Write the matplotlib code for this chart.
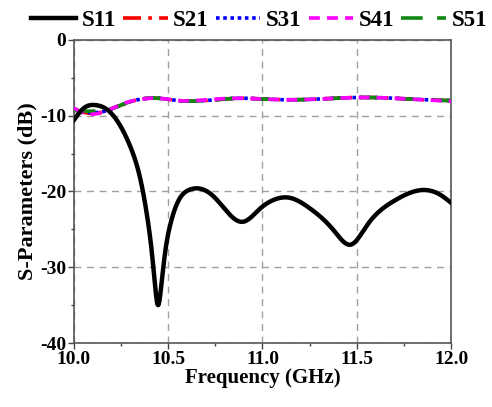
import matplotlib
matplotlib.use("Agg")
import matplotlib.pyplot as plt
import numpy as np
from matplotlib.ticker import MultipleLocator

# S11 (dB)
s11_f = [10.0, 10.053, 10.115, 10.177, 10.248, 10.30, 10.354, 10.389, 10.416, 10.433, 10.446,
         10.463, 10.481, 10.513, 10.557, 10.61, 10.663, 10.743, 10.81, 10.895, 10.99, 11.06,
         11.137, 11.25, 11.38, 11.47, 11.55, 11.70, 11.855, 11.94, 12.0]
s11_db = [-10.6, -9.0, -8.6, -9.2, -11.4, -14.1, -18.5, -23.3, -28.6, -33.0, -35.0,
          -32.6, -28.6, -24.2, -21.1, -19.8, -19.6, -20.7, -22.6, -24.0, -22.2, -21.1,
          -20.8, -22.2, -25.2, -27.0, -24.6, -21.2, -19.8, -20.4, -21.5]

# S21..S51 (dB), nearly identical
sx_f = [10.0, 10.06, 10.10, 10.18, 10.25, 10.32, 10.45, 10.55, 10.70, 10.88, 11.0, 11.15, 11.30, 11.50, 11.70, 11.85, 12.0]
s21_db = [-9.1, -9.6, -9.7, -9.3, -8.6, -8.0, -7.7, -8.0, -8.0, -7.7, -7.8, -7.9, -7.8, -7.6, -7.7, -7.9, -8.0]
s31_db = [-9.1, -9.5, -9.6, -9.3, -8.6, -8.0, -7.7, -8.0, -8.0, -7.7, -7.8, -7.9, -7.8, -7.6, -7.7, -7.9, -8.0]
s41_db = [-9.0, -9.7, -9.8, -9.3, -8.5, -8.0, -7.7, -8.0, -7.9, -7.7, -7.8, -7.9, -7.8, -7.6, -7.7, -7.9, -8.1]
s51_db = [-9.3, -9.4, -9.4, -9.2, -8.6, -8.0, -7.7, -8.0, -8.0, -7.7, -7.8, -7.9, -7.8, -7.6, -7.7, -7.9, -8.0]

x_ticks = [10.0, 10.5, 11.0, 11.5, 12.0]
x_tick_labels = ["10.0", "10.5", "11.0", "11.5", "12.0"]
y_ticks = [0, -10, -20, -30, -40]
y_tick_labels = ["0", "-10", "-20", "-30", "-40"]


def spline(xs, ys, n=800):
    """Natural cubic spline through the read points."""
    xs = np.asarray(xs, float); ys = np.asarray(ys, float)
    N = len(xs); h = np.diff(xs)
    A = np.zeros((N, N)); b = np.zeros(N)
    A[0, 0] = A[-1, -1] = 1.0
    for i in range(1, N - 1):
        A[i, i - 1] = h[i - 1]; A[i, i] = 2 * (h[i - 1] + h[i]); A[i, i + 1] = h[i]
        b[i] = 6 * ((ys[i + 1] - ys[i]) / h[i] - (ys[i] - ys[i - 1]) / h[i - 1])
    M = np.linalg.solve(A, b)
    xf = np.linspace(xs[0], xs[-1], n)
    i = np.clip(np.searchsorted(xs, xf, side="right") - 1, 0, N - 2)
    hi = h[i]; a = xs[i + 1] - xf; c = xf - xs[i]
    yf = (M[i] * a**3 + M[i + 1] * c**3) / (6 * hi) + (ys[i] / hi - M[i] * hi / 6) * a \
        + (ys[i + 1] / hi - M[i + 1] * hi / 6) * c
    return xf, yf


plt.rcParams['font.family'] = ['Liberation Serif', 'DejaVu Serif']
plt.rcParams['font.weight'] = 'bold'

fig = plt.figure(figsize=(4.92, 4.07), dpi=100)
ax = fig.add_axes([0.150, 0.157, 0.767, 0.745])

f, y = spline(s11_f, s11_db)
ax.plot(f, y, color='black', lw=3.2, label='S11', zorder=5)
f, y = spline(sx_f, s21_db)
ax.plot(f, y, color='red', lw=2.6, ls=(0, (5, 2, 1, 2)), label='S21', zorder=3)
f, y = spline(sx_f, s31_db)
ax.plot(f, y, color='blue', lw=2.6, ls=(0, (1, 1)), label='S31', zorder=3)
f, y = spline(sx_f, s41_db)
ax.plot(f, y, color='#ff00ff', lw=2.6, ls=(0, (3, 2)), label='S41', zorder=4)
f, y = spline(sx_f, s51_db)
ax.plot(f, y, color='#118811', lw=2.6, ls=(0, (6, 4)), label='S51', zorder=3)

ax.set_xlim(10.0, 12.0)
ax.set_ylim(-40, 0)
ax.set_xticks(x_ticks)
ax.set_xticklabels(x_tick_labels)
ax.set_yticks(y_ticks)
ax.set_yticklabels(y_tick_labels)
ax.xaxis.set_minor_locator(MultipleLocator(0.25))
ax.yaxis.set_minor_locator(MultipleLocator(5))
ax.tick_params(which='major', direction='out', length=4, width=1.0, labelsize=14,
               colors='#444444', labelcolor='black', pad=1.5)
ax.tick_params(which='minor', direction='out', length=2.5, width=1.0, colors='#444444')
for lab in ax.get_xticklabels() + ax.get_yticklabels():
    lab.set_fontweight('bold')
ax.grid(True, which='major', color='#a0a0a0', ls=(0, (5, 4)), lw=1.0)
for s in ax.spines.values():
    s.set_color('#555555'); s.set_linewidth(1.2)

ax.set_xlabel('Frequency (GHz)', fontsize=15, fontweight='bold', labelpad=0)
ax.set_ylabel('S-Parameters (dB)', fontsize=16, fontweight='bold', labelpad=2)

leg = fig.legend(loc='upper center', bbox_to_anchor=(0.527, 1.025), ncol=5, frameon=False,
                 handlelength=1.95, handletextpad=0.25, columnspacing=0.3,
                 prop={'weight': 'bold', 'size': 16.5})

fig.savefig('out.png', dpi=100)
